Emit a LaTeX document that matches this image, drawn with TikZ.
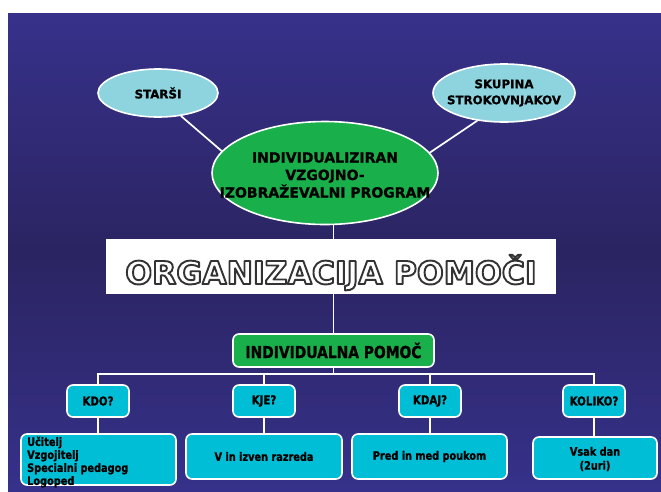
\documentclass[tikz,border=0pt]{standalone}
\usepackage{fontspec}
\setmainfont{DejaVu Sans}
\newfontfamily\ovalfont[FakeBold=1]{DejaVu Sans Bold}
\newfontfamily\boxfont[FakeStretch=0.84,FakeBold=1]{DejaVu Sans Bold}
\usetikzlibrary{shapes.geometric}

\definecolor{bgtop}{HTML}{37318B}
\definecolor{bgmid}{HTML}{2B2462}
\definecolor{bgbot}{HTML}{36318A}
\definecolor{ovalcyan}{HTML}{8DD4DF}
\definecolor{ivpgreen}{HTML}{19B04B}
\definecolor{boxcyan}{HTML}{00BED5}

% white lettering with a dark stroked outline (fill + stroke render mode)
\newcommand{\outlinedtext}[1]{%
  \special{pdf:literal direct 0.2 G 1.9 w 1 j 2 Tr}#1\special{pdf:literal direct 0 Tr}}

\pgfdeclarelayer{bg}
\pgfdeclarelayer{wires}
\pgfsetlayers{bg,wires,main}

\begin{document}
\begin{tikzpicture}[x=1pt,y=-1pt,
  wire/.style={draw=white, line width=1.7pt},
  oval/.style={ellipse, draw=white, line width=1.6pt, inner sep=0pt},
  ovaltext/.style={align=center, inner sep=0pt, text=black,
    font=\ovalfont\fontsize{11.8}{16}\selectfont},
  roundbox/.style={rectangle, rounded corners=6pt, draw=white,
    line width=1.6pt, inner sep=0pt, align=center, text=black},
  qbox/.style={roundbox, fill=boxcyan, minimum width=62, minimum height=32,
    font=\boxfont\fontsize{12.2}{14}\selectfont},
  abox/.style={roundbox, fill=boxcyan},
  atext/.style={inner sep=0pt, text=black,
    font=\boxfont\fontsize{11.6}{13}\selectfont},
  titletext/.style={inner sep=0pt, anchor=base, text=white,
    font=\fontsize{31.5}{32}\selectfont\bfseries}
]

% page and gradient background
\begin{pgfonlayer}{bg}
  \fill[white] (0,0) rectangle (661,491);
  \shade[top color=bgtop, bottom color=bgmid] (8,13) rectangle (661,252);
  \shade[top color=bgmid, bottom color=bgbot] (8,251.5) rectangle (661,491);
\end{pgfonlayer}

% upper part: parents, experts and the programme
\node[oval, fill=ovalcyan, minimum width=120, minimum height=48] (starsi) at (158,93) {};
\node[ovaltext] (starsitext) at (starsi.center) {STARŠI};

\node[oval, fill=ovalcyan, minimum width=142, minimum height=58] (skupina) at (504,93) {};
\node[ovaltext] (skupinatext) at (skupina.center) {SKUPINA\\STROKOVNJAKOV};

\node[oval, fill=ivpgreen, minimum width=226, minimum height=103] (ivp) at (325,173) {};
\node[ovaltext, font=\ovalfont\fontsize{14}{17.5}\selectfont] (ivptext) at (325,175)
  {INDIVIDUALIZIRAN\\VZGOJNO-\\IZOBRAŽEVALNI PROGRAM};

% title banner
\node[fill=white, inner sep=0pt, minimum width=450, minimum height=55] (banner) at (331,266.5) {};
\node[titletext] (title) at (331,284) {\outlinedtext{ORGANIZACIJA POMOČI}};

% individual help tree
\node[roundbox, fill=ivpgreen, minimum width=201, minimum height=33,
  font=\boxfont\fontsize{16.5}{18}\selectfont] (indiv) at (333.5,350.5) {INDIVIDUALNA POMOČ};

\node[qbox] (kdo)    at (98,401)  {KDO?};
\node[qbox] (kje)    at (264,401) {KJE?};
\node[qbox] (kdaj)   at (430,401) {KDAJ?};
\node[qbox] (koliko) at (594,401) {KOLIKO?};

\node[abox, minimum width=155, minimum height=51] (a1) at (98.5,459.5) {};
\node[atext, anchor=west, align=left] (a1text) at (27,462)
  {Učitelj\\Vzgojitelj\\Specialni pedagog\\Logoped};
\node[abox, minimum width=156, minimum height=45] (a2) at (264,456.5) {};
\node[atext] (a2text) at (a2.center) {V in izven razreda};
\node[abox, minimum width=155, minimum height=45] (a3) at (429.5,456.5) {};
\node[atext] (a3text) at (a3.center) {Pred in med poukom};
\node[abox, minimum width=124, minimum height=42] (a4) at (595,458) {};
\node[atext, align=center, font=\boxfont\fontsize{11.6}{14}\selectfont] (a4text) at (595,459)
  {Vsak dan\\(2uri)};

% connectors
\coordinate (bus) at (333.5,374);
\begin{pgfonlayer}{wires}
  \draw[wire] (starsi.-45) -- (ivp.168);
  \draw[wire] (skupina.-134) -- (ivp.11);
  \draw[wire] (ivp.center -| indiv.north) -- (indiv.north);
  \draw[wire] (indiv.south) -- (bus);
  \draw[wire] (kdo.north) |- (bus) -| (koliko.north);
  \draw[wire] (kje.north |- bus) -- (kje.north);
  \draw[wire] (kdaj.north |- bus) -- (kdaj.north);
  \draw[wire] (kdo) -- (kdo |- a1.north);
  \draw[wire] (kje) -- (kje |- a2.north);
  \draw[wire] (kdaj) -- (kdaj |- a3.north);
  \draw[wire] (koliko) -- (koliko |- a4.north);
\end{pgfonlayer}
\end{tikzpicture}
\end{document}
